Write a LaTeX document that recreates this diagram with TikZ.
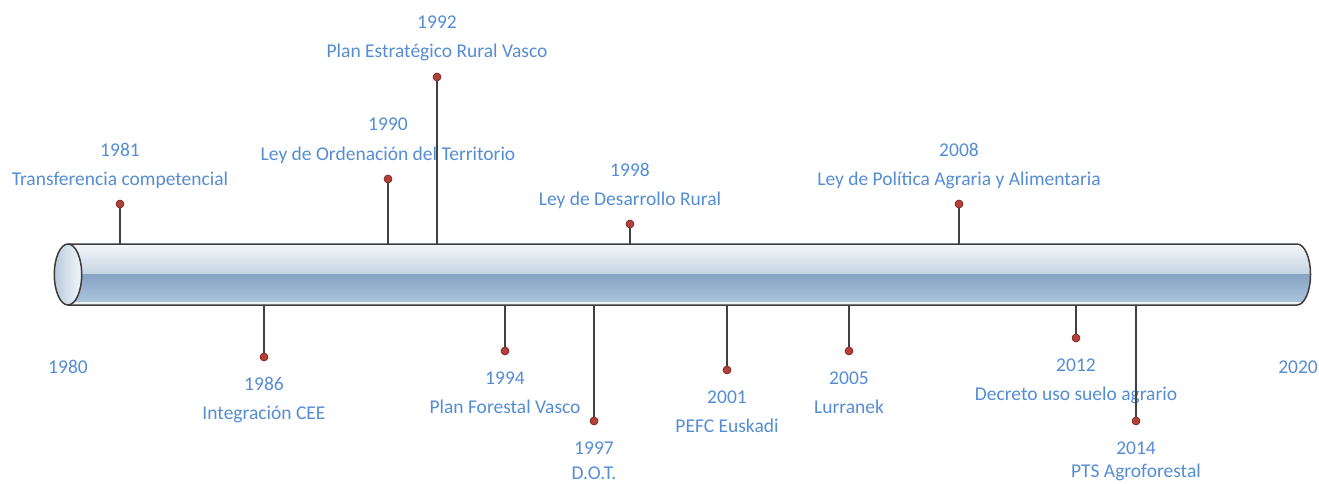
\documentclass[tikz,border=0pt]{standalone}
\usepackage{fontspec}
\setmainfont{Carlito}
\definecolor{txtblue}{RGB}{84,141,212}
\definecolor{stemgray}{RGB}{64,64,64}
\definecolor{dotred}{RGB}{180,64,58}
\definecolor{dotedge}{RGB}{110,30,28}
\definecolor{cylA}{RGB}{244,247,250}
\definecolor{cylB}{RGB}{196,211,226}
\definecolor{cylC}{RGB}{134,163,194}
\definecolor{cylD}{RGB}{172,196,220}
\definecolor{cylEdge}{RGB}{60,60,60}
\tikzset{
  lbl/.style={text=txtblue, font=\fontsize{19.5}{23}\selectfont, inner sep=0pt, anchor=base},
  stem/.style={draw=stemgray, line width=1.5pt},
  pin/.style={circle, fill=dotred, draw=dotedge, line width=0.6pt, minimum size=8pt, inner sep=0pt},
  cyledge/.style={draw=cylEdge, line width=1.5pt}
}
\newcommand\evtop[4]{% x, dot y, year, label
  \coordinate (c#3) at (#1,244);
  \node[pin] (d#3) at (#1,#2) {};
  \draw[stem] (c#3) -- (d#3.south);
  \node[lbl] (y#3) at (#1,#2-48) {#3};
  \node[lbl] (l#3) at (#1,#2-19) {#4};
}
\newcommand\evbot[5][62]{% label offset, x, dot y, year, label
  \coordinate (c#4) at (#2,305);
  \node[pin] (d#4) at (#2,#3) {};
  \draw[stem] (c#4) -- (d#4.north);
  \node[lbl] (y#4) at (#2,#3+33) {#4};
  \node[lbl] (l#4) at (#2,#3+#1) {#5};
}
\newcommand\bodypath{(68,244) -- (1297,244) .. controls (1304.46,244) and (1310.5,257.65) .. (1310.5,274.5) .. controls (1310.5,291.35) and (1304.46,305) .. (1297,305) -- (68,305)}
\begin{document}
\begin{tikzpicture}[x=1pt,y=-1pt]
\useasboundingbox (0,0) rectangle (1319,484);
% cylinder body
\begin{scope}
  \clip \bodypath -- cycle;
  \shade[top color=cylA, bottom color=cylB] (60,244) rectangle (1315,274.5);
  \shade[top color=cylC, bottom color=cylD] (60,274.5) rectangle (1315,302);
  \fill[white!80!cylD] (60,302) rectangle (1315,306);
\end{scope}
\draw[cyledge] \bodypath;
\shade[left color=cylB!80!cylC, right color=cylA, draw=cylEdge, line width=1.5pt] (68,274.5) ellipse[x radius=13.7, y radius=30.5];
% events above
\evtop{120}{204}{1981}{Transferencia competencial}
\evtop{388}{179}{1990}{Ley de Ordenación del Territorio}
\evtop{437}{77}{1992}{Plan Estratégico Rural Vasco}
\evtop{630}{224}{1998}{Ley de Desarrollo Rural}
\evtop{959}{204}{2008}{Ley de Política Agraria y Alimentaria}
% events below
\evbot{264}{357}{1986}{Integración CEE}
\evbot{505}{351}{1994}{Plan Forestal Vasco}
\evbot[58]{594}{421}{1997}{D.O.T.}
\evbot{727}{370}{2001}{PEFC Euskadi}
\evbot{849}{351}{2005}{Lurranek}
\evbot{1076}{338}{2012}{Decreto uso suelo agrario}
\evbot[56]{1136}{421}{2014}{PTS Agroforestal}
% end years
\node[lbl] (y1980) at (68,373) {1980};
\node[lbl] (y2020) at (1298,373) {2020};
\end{tikzpicture}
\end{document}
